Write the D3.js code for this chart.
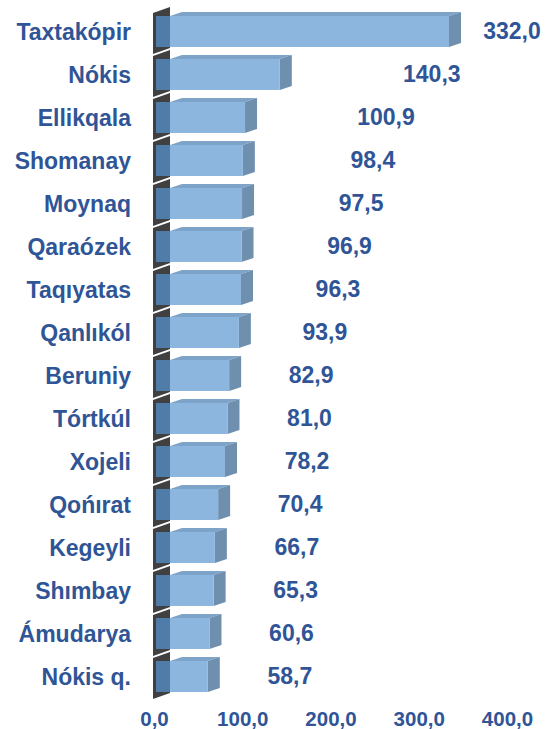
<!DOCTYPE html>
<html lang="en">
	<head>
		<meta charset="utf-8">
		<title>3D bar chart</title>
		<script type="text/javascript" src="https://cdn.jsdelivr.net/npm/d3@7"></script>
		<style>
			body { margin: 0; background: #fff; }
			text {
				font-family: "Liberation Sans", Arial, sans-serif;
				font-weight: bold;
				fill: #2f5597;
			}
			.cat { font-size: 23px; }
			.val { font-size: 23px; }
			.axis text { font-size: 20.5px; fill: #2f5597; }
			.axis path, .axis line { display: none; }
		</style>
	</head>
	<body>
		<script type="text/javascript">
			var categories = ["Taxtakópir", "Nókis", "Ellikqala", "Shomanay", "Moynaq", "Qaraózek",
				"Taqıyatas", "Qanlıkól", "Beruniy", "Tórtkúl", "Xojeli", "Qońırat",
				"Kegeyli", "Shımbay", "Ámudarya", "Nókis q."];
			var values = [332.0, 140.3, 100.9, 98.4, 97.5, 96.9, 96.3, 93.9, 82.9, 81.0,
				78.2, 70.4, 66.7, 65.3, 60.6, 58.7];
			var tickValues = [0, 100, 200, 300, 400];

			var w = 545;
			var h = 729;

			var svg = d3.select("body")
						.append("svg")
						.attr("width", w)
						.attr("height", h);

			var xScale = d3.scaleLinear()
						   .domain([0, 400])
						   .range([156, 509]);

			var yScale = d3.scaleBand()
						   .domain(categories)
						   .range([10, 698])
						   .paddingInner(0.28)
						   .paddingOuter(0.14);

			var step = yScale.step();
			var bw = yScale.bandwidth();
			var depthX = 12, depthY = 4;
			var wallL = 153, wallR = 170;
			var comma = function(v) { return d3.format(".1f")(v).replace(".", ","); };

			var rows = categories.map(function(c, i) { return {cat: c, val: values[i], i: i}; });

			// left wall segments
			svg.selectAll("polygon.wall")
			   .data(rows)
			   .enter()
			   .append("polygon")
			   .attr("class", "wall")
			   .attr("fill", "#404040")
			   .attr("points", function(d) {
					var top = yScale(d.cat) - (step - bw) / 2;
					var bot = top + step;
					return [[wallL, top + 3], [wallR, top - 3], [wallR, bot - 5], [wallL, bot + 1]].join(" ");
			   });

			var bars = svg.selectAll("g.bar")
						  .data(rows)
						  .enter()
						  .append("g")
						  .attr("class", "bar");

			// top face
			bars.append("polygon")
				.attr("fill", "#7ea3c8")
				.attr("points", function(d) {
					var y0 = yScale(d.cat), x1 = xScale(d.val);
					return [[wallR, y0], [x1, y0], [x1 + depthX, y0 - depthY], [wallR + depthX, y0 - depthY]].join(" ");
				});

			// side face
			bars.append("polygon")
				.attr("fill", "#6f8fae")
				.attr("points", function(d) {
					var y0 = yScale(d.cat), x1 = xScale(d.val);
					return [[x1, y0], [x1 + depthX, y0 - depthY], [x1 + depthX, y0 + bw - depthY], [x1, y0 + bw]].join(" ");
				});

			// front face
			bars.append("rect")
				.attr("x", xScale(0))
				.attr("y", function(d) { return yScale(d.cat); })
				.attr("width", function(d) { return xScale(d.val) - xScale(0); })
				.attr("height", bw)
				.attr("fill", "#8cb6de");

			// part of the bar seen through the wall
			bars.append("rect")
				.attr("x", xScale(0))
				.attr("y", function(d) { return yScale(d.cat); })
				.attr("width", wallR - xScale(0))
				.attr("height", bw)
				.attr("fill", "#4f7ca9");

			// category labels
			svg.selectAll("text.cat")
			   .data(rows)
			   .enter()
			   .append("text")
			   .attr("class", "cat")
			   .attr("text-anchor", "end")
			   .attr("x", 131)
			   .attr("y", function(d) { return yScale(d.cat) + bw / 2; })
			   .attr("dy", "0.36em")
			   .text(function(d) { return d.cat; });

			// value labels, pushed further out on the upper rows like excel does
			svg.selectAll("text.val")
			   .data(rows)
			   .enter()
			   .append("text")
			   .attr("class", "val")
			   .attr("text-anchor", "middle")
			   .attr("x", function(d) {
					var off = Math.max(82, 163 - 11 * d.i);
					return Math.min(xScale(d.val) + off, 512);
			   })
			   .attr("y", function(d) { return yScale(d.cat) + bw / 2 - 1; })
			   .attr("dy", "0.36em")
			   .text(function(d) { return comma(d.val); });

			// x axis
			var xAxis = d3.axisBottom(xScale)
						  .tickValues(tickValues)
						  .tickSize(0)
						  .tickPadding(0)
						  .tickFormat(comma);

			svg.append("g")
			   .attr("class", "axis")
			   .attr("transform", "translate(-2," + 711.5 + ")")
			   .call(xAxis)
			   .selectAll("text")
			   .attr("font-family", null)
			   .attr("font-size", null);
		</script>
	</body>
</html>
